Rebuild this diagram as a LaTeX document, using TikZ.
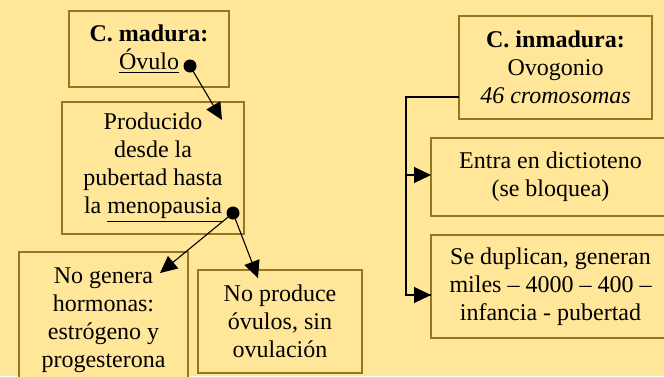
\documentclass[tikz,border=0pt]{standalone}
\usepackage{fontspec}
\setmainfont{Liberation Serif}
\usetikzlibrary{arrows.meta}
\definecolor{fondo}{RGB}{255,230,153}
\definecolor{borde}{RGB}{150,118,30}
\tikzset{
  caja/.style={draw=borde, fill=fondo, line width=0.6pt, align=center, inner sep=0pt,
    font=\fontsize{12}{14}\selectfont},
  punto/.style={circle, fill=black, inner sep=0pt, minimum size=6.5pt},
  flecha/.style={line width=0.55pt, -{Triangle[length=8.5pt,width=8pt]}}
}
\begin{document}
\begin{tikzpicture}[x=0.5pt,y=-0.5pt]
   \useasboundingbox[fill=fondo] (0,0) rectangle (664,376);

   \node[caja, minimum width=80pt, minimum height=38pt] (madura) at (149,49)
   {\textbf{C. madura:}\\ \underline{Óvulo}};
   \node[caja, minimum width=91pt, minimum height=66pt] (producido) at (153,168)
   {Producido\\ desde la\\ pubertad hasta\\ la \underline{menopausia}};
   \node[caja, minimum width=84.5pt, minimum height=68pt] (hormonas) at (103.5,320)
   {No genera\\ hormonas:\\ estrógeno y\\ progesterona};
   \node[caja, minimum width=82pt, minimum height=51.5pt] (ovulos) at (280,321.5)
   {No produce\\ óvulos, sin\\ ovulación};

   \node[caja, minimum width=96.5pt, minimum height=51.5pt] (inmadura) at (555.5,67.5)
   {\textbf{C. inmadura:}\\ Ovogonio\\ \textit{46 cromosomas}};
   \node[caja, minimum width=119.5pt, minimum height=39pt] (dictioteno) at (550.5,177)
   {Entra en dictioteno\\ (se bloquea)};
   \node[caja, minimum width=119.5pt, minimum height=51.5pt] (duplican) at (550.5,286.5)
   {Se duplican, generan\\ miles -- 4000 -- 400 --\\ infancia - pubertad};

   \node[punto] (ovdot) at (190,66) {};
   \node[punto] (menodot) at (233,213) {};
   \coordinate (prodin) at (222,120);
   \coordinate (hormin) at (160,273);
   \coordinate (ovuin) at (258,278);
   \draw[flecha] (ovdot.center) -- (prodin);
   \draw[flecha] (menodot.center) -- (hormin);
   \draw[flecha] (menodot.center) -- (ovuin);

   \coordinate (inmout) at (459,97);
   \coordinate (tronco) at (406,97);
   \coordinate (dictin) at (431,175);
   \coordinate (dupin) at (431,295);
   \draw[line width=0.55pt] (inmout) -- (tronco) |- (dupin);
   \draw[flecha] (tronco |- dictin) -- (dictin);
   \draw[flecha] (tronco |- dupin) -- (dupin);

 \end{tikzpicture}
\end{document}
